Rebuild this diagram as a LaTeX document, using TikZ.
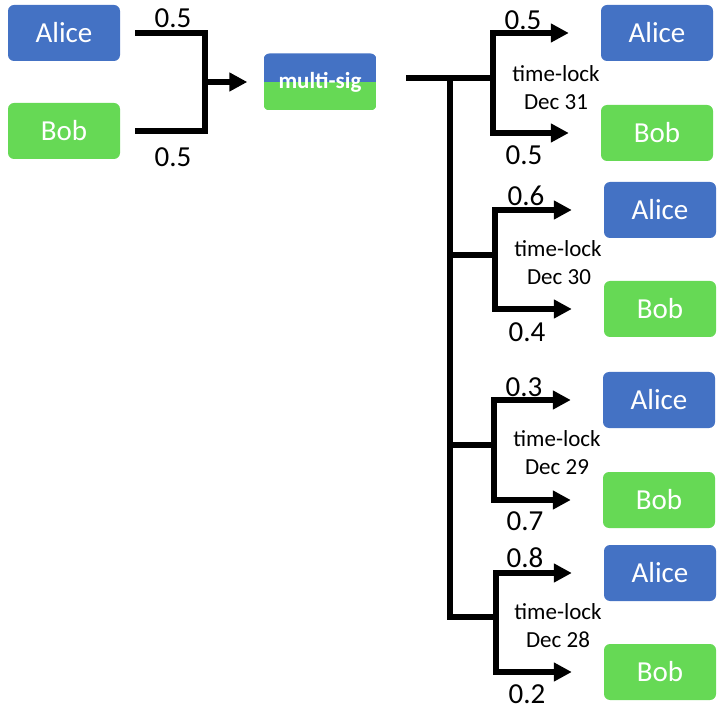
\documentclass[tikz,border=0pt]{standalone}
\usepackage{fontspec}
\setmainfont{Carlito}
\usetikzlibrary{arrows.meta}
\definecolor{aliceblue}{HTML}{4472C4}
\definecolor{bobgreen}{HTML}{66D955}
\tikzset{
	party/.style={rounded corners=6pt,minimum width=112pt,minimum height=56pt,inner sep=0pt,text=white,font=\fontsize{29}{30}\selectfont},
	alicebox/.style={party,fill=aliceblue},
	bobbox/.style={party,fill=bobgreen},
	wire/.style={line width=6pt,line join=miter},
	arr/.style={-{Triangle[length=18pt,width=18pt]}},
	share/.style={inner sep=0pt,font=\fontsize{29}{30}\selectfont},
	lock/.style={inner sep=0pt,font=\fontsize{23}{24}\selectfont}
}
\begin{document}
\begin{tikzpicture}[x=1pt,y=-1pt]
	\useasboundingbox (0,0) rectangle (726,719);
	\node[alicebox] (aliceL) at (64,33) {Alice};
	\node[bobbox] (bobL) at (64,131) {Bob};
	\node[rounded corners=6pt,minimum width=113pt,minimum height=57pt,inner sep=0pt,text=white,font=\bfseries\fontsize{23}{24}\selectfont,
		path picture={\fill[aliceblue,sharp corners] (path picture bounding box.north west) rectangle (path picture bounding box.east);
			\fill[bobgreen,sharp corners] (path picture bounding box.west) rectangle (path picture bounding box.south east);}] (ms) at (320,82) {multi-sig};
	\node[alicebox] (alice1) at (657,33) {Alice};
	\node[bobbox] (bob1) at (657,133) {Bob};
	\node[alicebox] (alice2) at (660,210) {Alice};
	\node[bobbox] (bob2) at (660,309) {Bob};
	\node[alicebox] (alice3) at (659,400) {Alice};
	\node[bobbox] (bob3) at (659,500) {Bob};
	\node[alicebox] (alice4) at (660,573) {Alice};
	\node[bobbox] (bob4) at (660,672) {Bob};
	\coordinate (jL) at (205,82);
	\coordinate (msout) at (406,78);
	\coordinate (trunk) at (450,78);
	\coordinate (j1) at (493,78);
	\coordinate (j2) at (495,255);
	\coordinate (j3) at (494,445);
	\coordinate (j4) at (496,617);
	
	% funding side
	\draw[wire] ([xshift=15pt]aliceL.east) -| (jL);
	\draw[wire] ([xshift=15pt]bobL.east) -| (jL);
	\draw[wire,arr,shorten >=16pt] (jL) -- (ms);
	\node[share] (inA) at (173,18) {0.5};
	\node[share] (inB) at (173,157) {0.5};
	
	% trunk of the refunds
	\draw[wire] (msout) -- (j1);
	\draw[wire] (trunk) |- (j4);
	\draw[wire] (trunk |- j2) -- (j2);
	\draw[wire] (trunk |- j3) -- (j3);
	
	\draw[wire,arr,shorten >=32pt] (j1) |- (alice1);
	\draw[wire,arr,shorten >=32pt] (j1) |- (bob1);
	\draw[wire,arr,shorten >=32pt] (j2) |- (alice2);
	\draw[wire,arr,shorten >=32pt] (j2) |- (bob2);
	\draw[wire,arr,shorten >=32pt] (j3) |- (alice3);
	\draw[wire,arr,shorten >=32pt] (j3) |- (bob3);
	\draw[wire,arr,shorten >=32pt] (j4) |- (alice4);
	\draw[wire,arr,shorten >=32pt] (j4) |- (bob4);
	
	\node[share] (a1) at (523,20) {0.5};
	\node[share] (b1) at (524,155) {0.5};
	\node[share] (a2) at (526,196) {0.6};
	\node[share] (b2) at (527,332) {0.4};
	\node[share] (a3) at (524,387) {0.3};
	\node[share] (b3) at (525,521) {0.7};
	\node[share] (a4) at (525,558) {0.8};
	\node[share] (b4) at (527,694) {0.2};
	
	\node[lock] (tl1) at (556,74) {time-lock};
	\node[lock] (d1) at (556,102) {Dec 31};
	\node[lock] (tl2) at (558,249) {time-lock};
	\node[lock] (d2) at (559,277) {Dec 30};
	\node[lock] (tl3) at (557,439) {time-lock};
	\node[lock] (d3) at (557,467) {Dec 29};
	\node[lock] (tl4) at (558,612) {time-lock};
	\node[lock] (d4) at (558,640) {Dec 28};
\end{tikzpicture}
\end{document}
